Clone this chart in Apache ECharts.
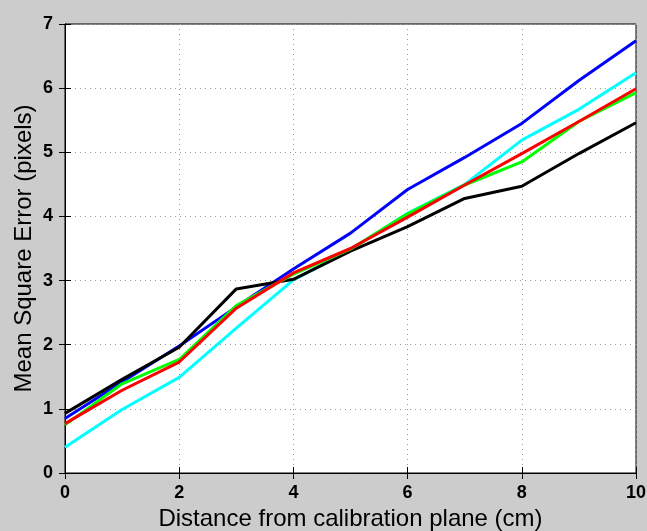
<!DOCTYPE html>
<html><head><meta charset="utf-8">
<script src="https://cdn.jsdelivr.net/npm/echarts@6/dist/echarts.min.js"></script>
<style>html,body{margin:0;padding:0;background:#cccccc}#c{width:647px;height:531px}</style>
</head><body><div id="c"></div>
<script>
const xValues = [0,1,2,3,4,5,6,7,8,9,10];
const blueSeries  = [0.85,1.42,1.98,2.59,3.18,3.74,4.42,4.92,5.45,6.12,6.74];
const cyanSeries  = [0.40,0.99,1.49,2.26,3.01,3.48,4.05,4.50,5.19,5.67,6.24];
const greenSeries = [0.75,1.39,1.77,2.61,3.10,3.49,4.04,4.49,4.85,5.48,5.93];
const blackSeries = [0.93,1.46,1.96,2.87,3.02,3.46,3.84,4.28,4.47,4.98,5.46];
const redSeries   = [0.77,1.29,1.73,2.57,3.12,3.50,3.99,4.49,4.98,5.48,5.99];
const xTicks = [0,2,4,6,8,10];
const yTicks = [0,1,2,3,4,5,6,7];

const chart = echarts.init(document.getElementById('c'));
const pair = a => a.map((v,i)=>[xValues[i],v]);
const mk = (name,color,data,z) => ({name,type:'line',data:pair(data),showSymbol:false,symbol:'none',
  lineStyle:{color,width:3},itemStyle:{color},z,animation:false});
const tickFont = {fontFamily:'Liberation Sans, Arial, sans-serif',fontWeight:'bold',fontSize:18,color:'#000'};
const nameFont = {fontFamily:'Liberation Sans, Arial, sans-serif',fontSize:24,color:'#000'};
chart.setOption({
  backgroundColor:'#cccccc',
  animation:false,
  grid:{left:65,right:11,top:24,bottom:58,containLabel:false,outerBoundsMode:'none',
    show:true,backgroundColor:'#ffffff',borderColor:'#000',borderWidth:1},
  xAxis:[{type:'value',min:0,max:10,interval:2,
    name:'Distance from calibration plane (cm)',nameLocation:'middle',nameGap:32,
    nameTextStyle:nameFont,
    axisLine:{show:true,lineStyle:{color:'#000',width:1}},
    axisTick:{show:true,inside:true,length:6,lineStyle:{color:'#000'}},
    axisLabel:Object.assign({margin:11,formatter:v=>xTicks.includes(v)?String(v):''},tickFont),
    splitLine:{show:true,lineStyle:{color:'#999',type:[1,4],width:1}}},
   {type:'value',position:'top',min:0,max:10,interval:2,
    axisLine:{show:true,lineStyle:{color:'#000'}},axisTick:{show:true,inside:true,length:6,lineStyle:{color:'#000'}},
    axisLabel:{show:false},splitLine:{show:false}}],
  yAxis:[{type:'value',min:0,max:7,interval:1,
    name:'Mean Square Error (pixels)',nameLocation:'middle',nameGap:29,nameMoveOverlap:false,
    nameTextStyle:nameFont,
    axisLine:{show:true,lineStyle:{color:'#000',width:1}},
    axisTick:{show:true,inside:true,length:6,lineStyle:{color:'#000'}},
    axisLabel:Object.assign({margin:12,formatter:v=>yTicks.includes(v)?String(v):''},tickFont),
    splitLine:{show:true,lineStyle:{color:'#999',type:[1,4],width:1}}},
   {type:'value',position:'right',min:0,max:7,interval:1,
    axisLine:{show:true,lineStyle:{color:'#000'}},axisTick:{show:true,inside:true,length:6,lineStyle:{color:'#000'}},
    axisLabel:{show:false},splitLine:{show:false}}],
  series:[
    mk('Blue','#0000ff',blueSeries,2),
    mk('Cyan','#00ffff',cyanSeries,3),
    mk('Black','#000000',blackSeries,4),
    mk('Green','#00ff00',greenSeries,5),
    mk('Red','#ff0000',redSeries,6)
  ]
});
</script></body></html>
